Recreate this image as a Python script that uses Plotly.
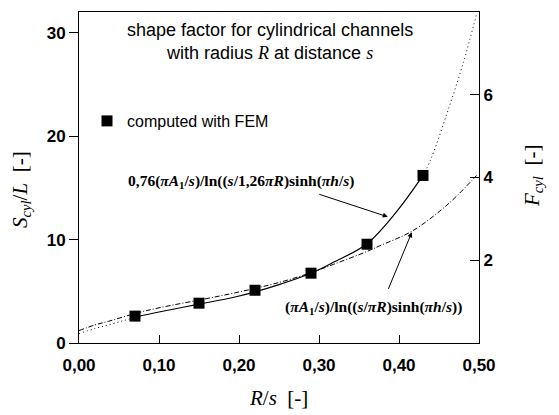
import plotly.graph_objects as go

# ---- data ----
fem_x = [0.07, 0.15, 0.22, 0.29, 0.36, 0.43]
fem_y = [2.6, 3.85, 5.1, 6.75, 9.55, 16.2]

# fit 1: 0,76(piA1/s)/ln((s/1,26piR)sinh(pih/s))  (solid part)
fit1_x = [0.07, 0.10, 0.15, 0.195, 0.22, 0.25, 0.29, 0.318, 0.36, 0.3975, 0.43]
fit1_y = [2.5, 3.0, 3.75, 4.45, 4.95, 5.65, 6.75, 7.8, 9.6, 12.75, 16.2]
# fit 1 dotted extensions
fit1_left_x = [0.0, 0.02, 0.037, 0.055, 0.07]
fit1_left_y = [0.9, 1.4, 1.75, 2.15, 2.5]
fit1_right_x = [0.43, 0.44, 0.46, 0.48, 0.497]
fit1_right_y = [16.2, 17.8, 22.2, 27.0, 31.8]

# fit 2: (piA1/s)/ln((s/piR)sinh(pih/s))  (dash-dot)
fit2_x = [0.0, 0.02, 0.037, 0.07, 0.10, 0.15, 0.195, 0.25, 0.29, 0.318, 0.36,
          0.376, 0.416, 0.451, 0.472, 0.497]
fit2_y = [1.2, 1.75, 2.1, 2.85, 3.4, 4.15, 4.85, 5.85, 6.8, 7.6, 8.85,
          9.4, 10.8, 12.75, 14.2, 16.2]

x_tick_vals = [0.0, 0.1, 0.2, 0.3, 0.4, 0.5]
x_tick_text = ["0,00", "0,10", "0,20", "0,30", "0,40", "0,50"]
y_tick_vals = [0, 10, 20, 30]
y2_tick_vals = [2, 4, 6]

# page body has an 8px margin; figure sized to fill the rest of the window
W, H = 551, 407
ML, MT = 71, 4
PW, PH = 400, 331
MR, MB = W - ML - PW, H - MT - PH
# screen-pixel positions of plot area
SX0, SY1 = 79, 343


def px(xp):
    return (xp - SX0) / PW


def py(yp):
    return (SY1 - yp) / PH


fig = go.Figure()
fig.add_trace(go.Scatter(x=fit2_x, y=fit2_y, mode="lines", showlegend=False,
                         line=dict(color="black", width=1, dash="5px,2px,1px,2px", shape="spline")))
fig.add_trace(go.Scatter(x=fit1_left_x, y=fit1_left_y, mode="lines", showlegend=False,
                         line=dict(color="black", width=1, dash="1px,3px", shape="spline")))
fig.add_trace(go.Scatter(x=fit1_right_x, y=fit1_right_y, mode="lines", showlegend=False,
                         line=dict(color="black", width=1, dash="1px,3px", shape="spline")))
fig.add_trace(go.Scatter(x=fit1_x, y=fit1_y, mode="lines", showlegend=False,
                         line=dict(color="black", width=1.2, shape="spline")))
fig.add_trace(go.Scatter(x=fem_x, y=fem_y, mode="markers", name="computed with FEM",
                         marker=dict(symbol="square", size=11, color="black")))
# dummy trace for right axis
fig.add_trace(go.Scatter(x=[None], y=[None], yaxis="y2", showlegend=False))

tickfont = dict(family="Liberation Sans", size=17, color="black", weight="bold")
serif = "Liberation Serif"

fig.update_layout(
    width=W, height=H, margin=dict(l=ML, r=MR, t=MT, b=MB, autoexpand=False),
    paper_bgcolor="white", plot_bgcolor="white",
    xaxis=dict(range=[0, 0.5], tickvals=x_tick_vals, ticktext=x_tick_text,
               ticks="inside", ticklen=8, tickcolor="black", showline=True,
               linecolor="black", linewidth=1, mirror=True, showgrid=False,
               zeroline=False, tickfont=tickfont, ticklabelstandoff=7),
    yaxis=dict(range=[0, 32], tickvals=y_tick_vals, ticks="outside", ticklen=9,
               tickcolor="black", showline=True, linecolor="black", linewidth=1,
               showgrid=False, zeroline=False, tickfont=tickfont),
    yaxis2=dict(range=[0, 8], tickvals=y2_tick_vals, overlaying="y", side="right",
                ticks="inside", ticklen=9, tickcolor="black", showline=True,
                linecolor="black", linewidth=1, showgrid=False, zeroline=False,
                tickfont=tickfont),
    legend=dict(x=px(87), y=py(121), xanchor="left", yanchor="middle",
                bgcolor="rgba(0,0,0,0)", font=dict(family="Liberation Sans", size=16, color="black"),
                itemwidth=30),
)


def txt(x, y, text, font, angle=0):
    return dict(x=px(x), y=py(y), xref="paper", yref="paper", showarrow=False,
                xanchor="center", yanchor="middle", text=text, font=font,
                textangle=angle, align="center")


ann = [
    txt(270, 41,
        "shape factor for cylindrical channels<br>with radius <i><span style='font-family:Liberation Serif'>R</span></i> at distance <i><span style='font-family:Liberation Serif'>s</span></i>",
        dict(family="Liberation Sans", size=18, color="black")),
    txt(241, 181,
        "<b>0,76(<i>πA</i><sub>1</sub>/<i>s</i>)/ln((<i>s</i>/1,26<i>πR</i>)sinh(<i>πh</i>/<i>s</i>)</b>",
        dict(family=serif, size=15.5, color="black")),
    txt(373, 307,
        "<b>(<i>πA</i><sub>1</sub>/<i>s</i>)/ln((<i>s</i>/<i>πR</i>)sinh(<i>πh</i>/<i>s</i>))</b>",
        dict(family=serif, size=15.5, color="black")),
    txt(278, 398, "<i>R</i>/<i>s</i>  [-]", dict(family=serif, size=21, color="black")),
    txt(21, 190, "<i>S</i><sub><i>cyl</i></sub>/<i>L</i>  [-]", dict(family=serif, size=21, color="black"), -90),
    txt(533, 176, "<i>F</i><sub><i>cyl</i></sub>  [-]", dict(family=serif, size=21, color="black"), -90),
    dict(x=0.386, y=12.2, xref="x", yref="y", ax=-70, ay=-23, text="",
         showarrow=True, arrowhead=2, arrowsize=1, arrowwidth=1, arrowcolor="black"),
    dict(x=0.416, y=10.7, xref="x", yref="y", ax=-24, ay=58, text="",
         showarrow=True, arrowhead=2, arrowsize=1, arrowwidth=1, arrowcolor="black"),
]
fig.update_layout(annotations=ann)

fig.write_html("out.html")
